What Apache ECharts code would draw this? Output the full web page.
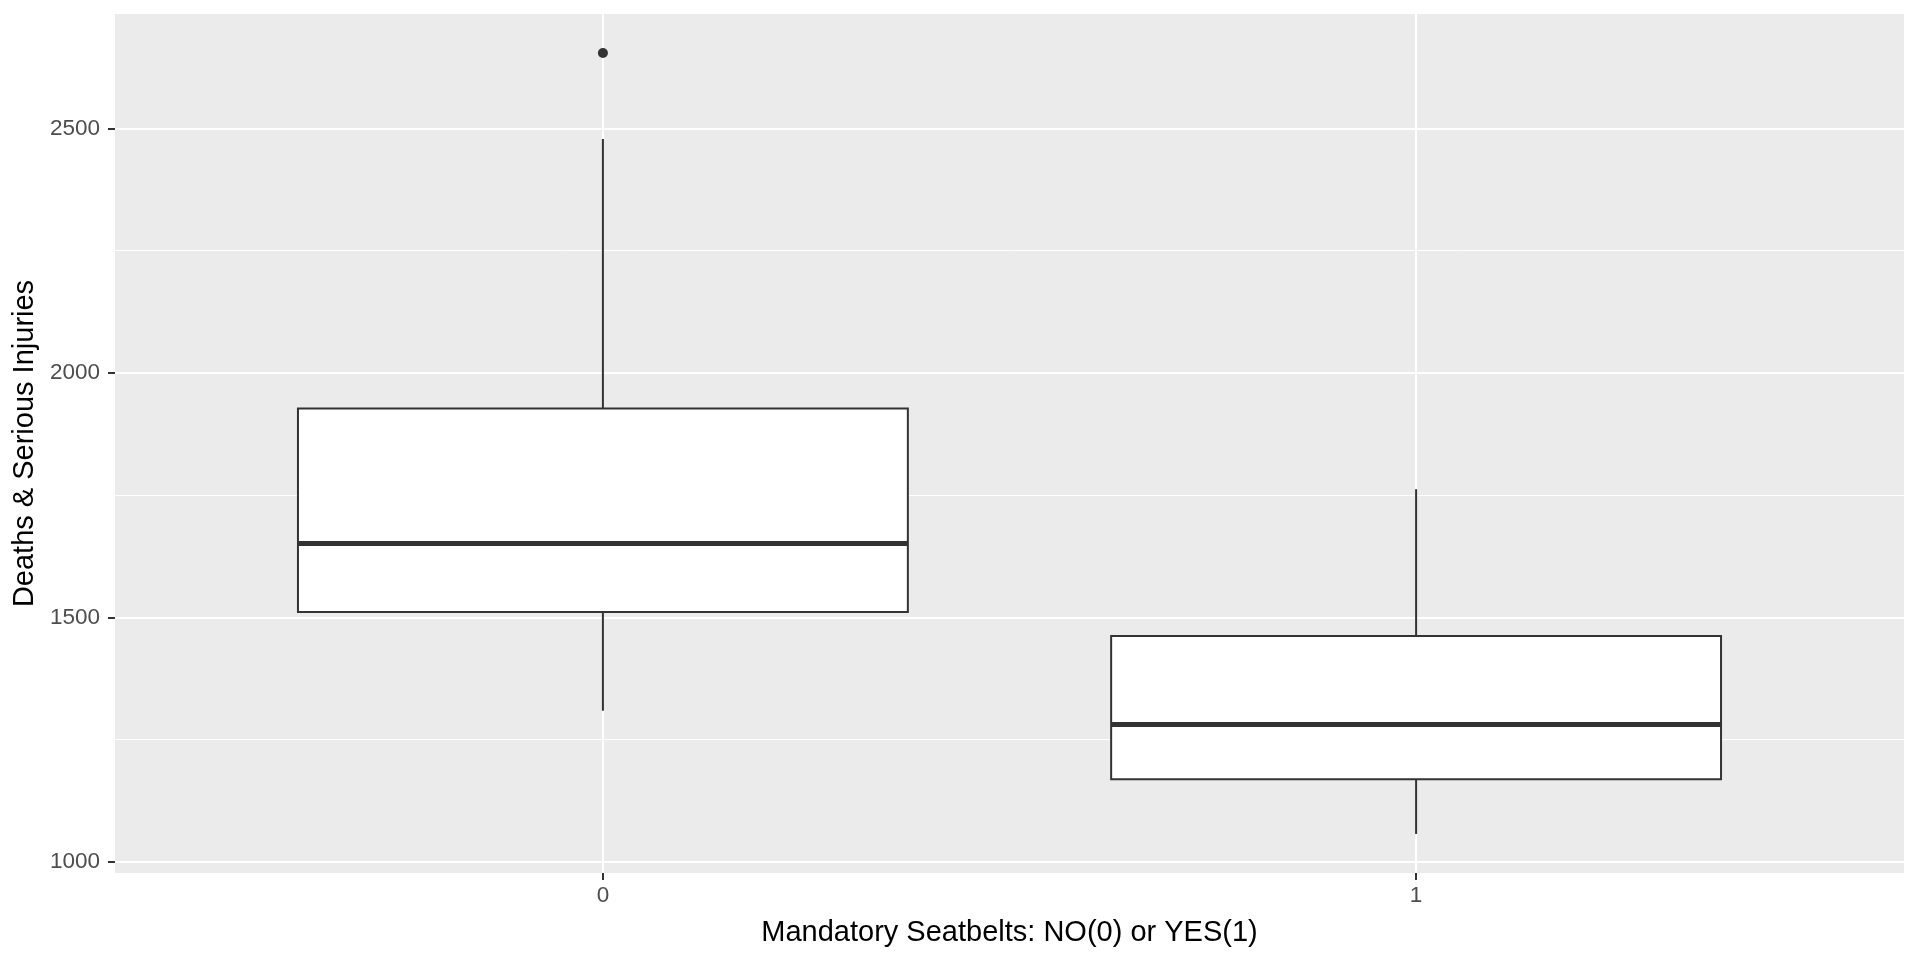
<!DOCTYPE html>
<html>
<head>
<meta charset="utf-8">
<script src="https://cdn.jsdelivr.net/npm/echarts@6/dist/echarts.min.js"></script>
<style>
html,body{margin:0;padding:0;background:#fff;}
#chart{width:1920px;height:960px;}
</style>
</head>
<body>
<div id="chart"></div>
<script>
// Data
var categories = ['0', '1'];
var categoryPositions = [0, 1];
var lowerWhisker = [1309, 1057];
var q1 = [1511, 1169];
var median = [1651, 1281];
var q3 = [1927, 1462];
var upperWhisker = [2478, 1762];
var outliers = [[0, 2654]];
var yMajorTicks = [1000, 1500, 2000, 2500];
var yMinorTicks = [1250, 1750, 2250];
var yRange = [977.15, 2733.85];
var xRange = [-0.6, 1.6];

var boxData = categoryPositions.map(function (x, i) {
  return [x, lowerWhisker[i], q1[i], median[i], q3[i], upperWhisker[i]];
});

var FONT = "'Liberation Sans', Arial, sans-serif";
var chart = echarts.init(document.getElementById('chart'), null, {renderer: 'canvas'});

function renderBox(params, api) {
  var x = api.value(0);
  var lo = api.coord([x, api.value(1)]);
  var b1 = api.coord([x, api.value(2)]);
  var md = api.coord([x, api.value(3)]);
  var b3 = api.coord([x, api.value(4)]);
  var hi = api.coord([x, api.value(5)]);
  var w = api.size([0.75, 0])[0];
  var cx = lo[0];
  var stroke = '#333333';
  return {
    type: 'group',
    children: [
      {type: 'line', shape: {x1: cx, y1: b3[1], x2: cx, y2: hi[1]}, style: {stroke: stroke, lineWidth: 2}},
      {type: 'line', shape: {x1: cx, y1: b1[1], x2: cx, y2: lo[1]}, style: {stroke: stroke, lineWidth: 2}},
      {type: 'rect', shape: {x: cx - w / 2, y: b3[1], width: w, height: b1[1] - b3[1]}, style: {fill: '#ffffff', stroke: stroke, lineWidth: 2}},
      {type: 'line', shape: {x1: cx - w / 2, y1: md[1], x2: cx + w / 2, y2: md[1]}, style: {stroke: stroke, lineWidth: 5}}
    ]
  };
}

var option = {
  animation: false,
  backgroundColor: '#ffffff',
  grid: {left: 115, right: 16, top: 14, bottom: 87, show: true, backgroundColor: '#EBEBEB', borderWidth: 0},
  xAxis: {
    type: 'value', min: xRange[0], max: xRange[1],
    name: 'Mandatory Seatbelts: NO(0) or YES(1)', nameLocation: 'middle', nameGap: 45,
    nameTextStyle: {fontFamily: FONT, fontSize: 29, color: '#000000'},
    axisLine: {show: false, onZero: false},
    axisTick: {show: true, length: 7, lineStyle: {color: '#333333', width: 2}, customValues: categoryPositions},
    axisLabel: {fontFamily: FONT, fontSize: 22.5, color: '#4D4D4D', margin: 11, customValues: categoryPositions,
      formatter: function (v) { return categories[categoryPositions.indexOf(v)]; }},
    splitLine: {show: true, lineStyle: {color: '#ffffff', width: 2}}
  },
  yAxis: [{
    type: 'value', min: yRange[0], max: yRange[1],
    name: 'Deaths & Serious Injuries', nameLocation: 'middle', nameGap: 73,
    nameTextStyle: {fontFamily: FONT, fontSize: 29, color: '#000000'},
    axisLine: {show: false, onZero: false},
    axisTick: {show: true, length: 7, lineStyle: {color: '#333333', width: 2}, customValues: yMajorTicks},
    axisLabel: {fontFamily: FONT, fontSize: 22.5, color: '#4D4D4D', margin: 15, customValues: yMajorTicks,
      formatter: function (v) { return String(v); }},
    splitLine: {show: true, lineStyle: {color: '#ffffff', width: 2}}
  }, {
    type: 'value', min: yRange[0], max: yRange[1], position: 'left',
    axisLine: {show: false, onZero: false},
    axisTick: {show: false, customValues: yMinorTicks},
    axisLabel: {show: false, customValues: yMinorTicks},
    splitLine: {show: true, lineStyle: {color: '#ffffff', width: 1}}
  }],
  series: [{
    type: 'custom',
    renderItem: renderBox,
    encode: {x: 0, y: [1, 2, 3, 4, 5]},
    data: boxData,
    z: 5
  }, {
    type: 'scatter',
    data: outliers,
    symbol: 'circle',
    symbolSize: 10,
    itemStyle: {color: '#333333', opacity: 1},
    z: 6
  }]
};
chart.setOption(option);
</script>
</body>
</html>
